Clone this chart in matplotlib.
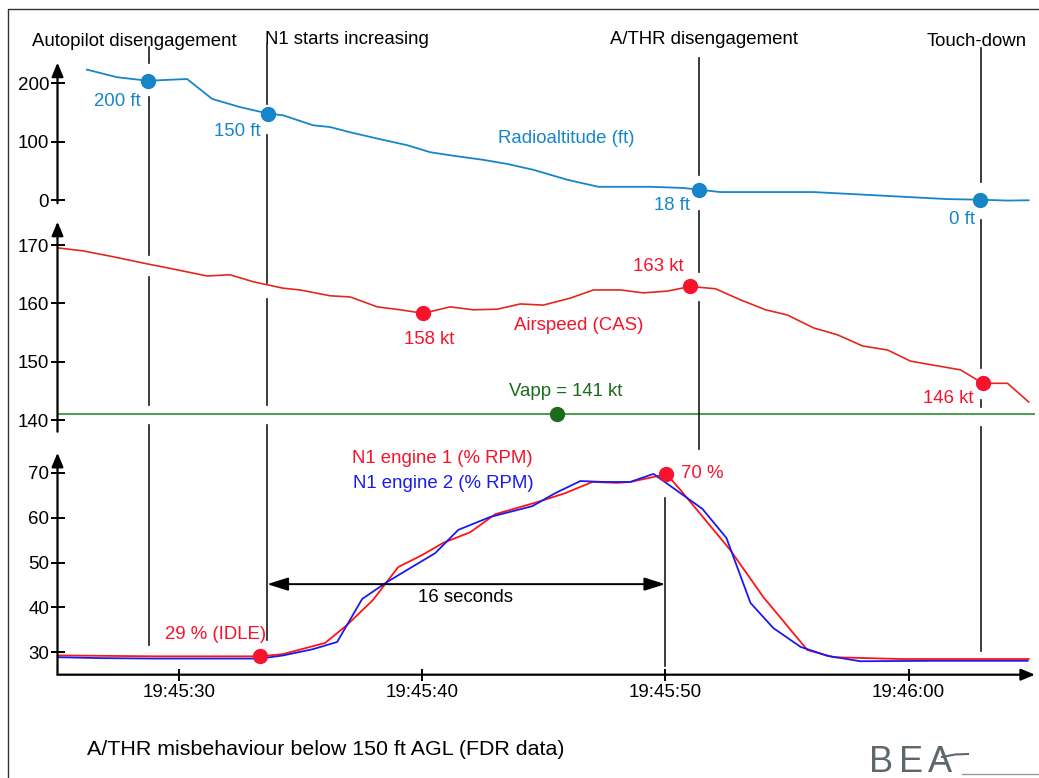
import numpy as np
import matplotlib.pyplot as plt
from matplotlib.lines import Line2D
from matplotlib.transforms import blended_transform_factory

plt.rcParams['font.family'] = ['Liberation Sans', 'DejaVu Sans']

W, H = 1039, 778

# time in seconds after 19:45:00
ra_t = [26.21, 27.45, 28.72, 30.33, 31.36, 32.51, 33.66, 34.28, 35.51, 36.21, 37.04,
        38.40, 39.38, 40.33, 41.28, 42.51, 43.50, 44.57, 45.97, 47.24, 49.38, 50.74,
        51.40, 52.26, 56.09, 57.49, 61.60, 62.92, 64.07, 64.94]
ra_ft = [223, 210, 204, 207, 173, 159, 148, 145, 128, 125, 116,
         103, 94, 82, 76, 69, 62, 52, 35, 23, 23, 21,
         18, 14, 14, 11, 2, 1, -0.5, 0]

cas_t = [25.02, 26.05, 27.16, 28.77, 29.51, 31.15, 32.10, 33.05, 34.28, 34.98, 36.21,
         37.04, 38.15, 39.09, 40.04, 41.15, 42.10, 43.09, 44.03, 44.98, 46.09, 47.04,
         48.15, 49.09, 50.08, 51.03, 52.06, 53.09, 54.12, 55.02, 56.09, 57.08, 58.11,
         59.14, 60.08, 61.03, 62.14, 63.05, 64.07, 64.94]
cas_kt = [169.5, 169.0, 168.1, 166.7, 166.1, 164.7, 164.9, 163.7, 162.6, 162.3, 161.3,
          161.1, 159.4, 158.9, 158.3, 159.4, 158.9, 159.0, 159.9, 159.7, 160.9, 162.3,
          162.3, 161.8, 162.1, 162.9, 162.5, 160.6, 158.9, 158.0, 155.8, 154.6, 152.7,
          152.0, 150.1, 149.4, 148.6, 146.3, 146.3, 143.1]
vapp = 141

n1_1_t = [25.0, 27.0, 29.0, 33.33, 34.28, 36.01, 36.91, 37.98, 39.01, 40.00, 40.86,
          41.98, 43.00, 44.73, 45.88, 47.00, 48.02, 48.56, 49.67, 50.04, 50.62, 52.67,
          54.03, 55.84, 56.91, 59.67, 64.94]
n1_1 = [29.3, 29.2, 29.1, 29.1, 29.6, 32.1, 36.1, 41.7, 49.0, 51.7, 54.4,
        56.8, 60.8, 63.5, 65.5, 68.0, 67.8, 68.0, 69.3, 69.8, 66.2, 52.8,
        42.3, 30.5, 28.9, 28.5, 28.5]
n1_2_t = [25.0, 26.75, 29.0, 33.33, 34.28, 35.51, 36.50, 37.53, 38.56, 39.51, 40.53,
          41.48, 42.80, 44.53, 45.47, 46.50, 47.45, 48.56, 49.51, 51.52, 52.51, 53.50,
          54.44, 55.56, 56.67, 58.02, 61.03, 64.90]
n1_2 = [28.9, 28.7, 28.6, 28.6, 29.3, 30.7, 32.3, 41.9, 45.7, 48.8, 52.1,
        57.3, 60.2, 62.6, 65.5, 68.2, 68.0, 68.0, 69.8, 62.0, 55.5, 41.0,
        35.4, 31.2, 29.2, 28.0, 28.1, 28.1]

ra_mark_t = [28.72, 33.66, 51.40, 62.92]
cas_mark_t = [40.04, 51.03, 63.05]
n1_mark_t = [33.33, 50.04]
vapp_mark_t = 45.56

event_names = ['Autopilot disengagement', 'N1 starts increasing', 'A/THR disengagement', 'Touch-down']
event_t = [28.77, 33.62, 51.40, 62.96]
thrust_end_t = 50.0

x_ticks = [30, 40, 50, 60]
x_labels = ['19:45:30', '19:45:40', '19:45:50', '19:46:00']

RA_C = '#1686c9'
CAS_C = '#e2281c'
RED = '#f5142c'
N1_R = '#ff1414'
N1_B = '#1a1aee'
GREEN = '#2e8b2e'
GREEN_D = '#1b6b1b'
EV_C = '#1a1a1a'
LOGO = '#5d686c'
FS = 13.4

fig = plt.figure(figsize=(W / 100, H / 100), dpi=100)


def px_axes(left, top, right, bottom):
    return fig.add_axes([left / W, 1 - bottom / H, (right - left) / W, (bottom - top) / H])


def ftext(x, y, s, color='k', ha='center', size=FS, **kw):
    fig.text(x / W, 1 - y / H, s, color=color, ha=ha, va='baseline', fontsize=size, **kw)


ax1 = px_axes(57.5, 62.6, 1035, 203.2)
ax2 = px_axes(57.5, 221.7, 1035, 431.7)
ax3 = px_axes(57.5, 452.8, 1035, 674.7)

arrow_kw = dict(arrowstyle='-|>,head_length=0.6,head_width=0.25', color='k', lw=1.6,
                mutation_scale=14, shrinkA=0, shrinkB=0)
for ax in (ax1, ax2, ax3):
    ax.set_xlim(25, 65.2)
    ax.patch.set_alpha(0)
    for s in ax.spines.values():
        s.set_visible(False)
    ax.tick_params(axis='y', direction='inout', length=10, width=1.4, labelsize=13.5, pad=1)
    ax.annotate('', xy=(0, 1), xytext=(0, 0), xycoords='axes fraction',
                textcoords='axes fraction', arrowprops=arrow_kw)

ax1.set_ylim(-5, 235)
ax1.set_yticks([0, 100, 200])
ax2.set_ylim(138, 174)
ax2.set_yticks([140, 150, 160, 170])
ax3.set_ylim(25, 74.5)
ax3.set_yticks([30, 40, 50, 60, 70])
for ax in (ax1, ax2):
    ax.set_xticks([])
ax3.set_xticks(x_ticks)
ax3.set_xticklabels(x_labels)
ax3.tick_params(axis='x', direction='inout', length=8, width=1.4, labelsize=13.5, pad=3)
ax3.annotate('', xy=(1, 0), xytext=(0, 0), xycoords='axes fraction',
             textcoords='axes fraction', arrowprops=arrow_kw)

# curves
ax1.plot(ra_t, ra_ft, color=RA_C, lw=1.3)
ax1.plot(ra_mark_t, np.interp(ra_mark_t, ra_t, ra_ft), 'o', color=RA_C, ms=10, clip_on=False)

ax2.plot(cas_t, cas_kt, color=CAS_C, lw=1.2)
ax2.plot(cas_mark_t, np.interp(cas_mark_t, cas_t, cas_kt), 'o', color=RED, ms=10)
ax2.axhline(vapp, color=GREEN, lw=1.2)
ax2.plot([vapp_mark_t], [vapp], 'o', color=GREEN_D, ms=10)

ax3.plot(n1_1_t, n1_1, color=N1_R, lw=1.3)
ax3.plot(n1_2_t, n1_2, color=N1_B, lw=1.3)
ax3.plot(n1_mark_t, np.interp(n1_mark_t, n1_1_t, n1_1), 'o', color=RED, ms=10)

# 16 seconds bracket
ax3.annotate('', xy=(thrust_end_t, 45.2), xytext=(event_t[1], 45.2),
             arrowprops=dict(arrowstyle='<|-|>,head_length=0.8,head_width=0.25', color='k',
                             lw=1.4, mutation_scale=16, shrinkA=0, shrinkB=0))

# event lines (pixel y segments, gaps around labels and curves)
ev_segments = [
    [(47, 63), (97, 255), (277, 405), (425, 645)],
    [(44, 104), (135, 283), (299, 405), (425, 640)],
    [(58, 175), (211, 272), (302, 449)],
    [(48, 182), (220, 368), (400, 407), (427, 651)],
]
trans = blended_transform_factory(ax3.transData, fig.transFigure)
for t, segs in zip(event_t, ev_segments):
    for y0, y1 in segs:
        fig.add_artist(Line2D([t, t], [1 - y0 / H, 1 - y1 / H], transform=trans, color=EV_C, lw=1.2))
fig.add_artist(Line2D([thrust_end_t, thrust_end_t], [1 - 498 / H, 1 - 666 / H], transform=trans,
                      color=EV_C, lw=1.2))

# event labels
ftext(134, 46, event_names[0])
ftext(347, 44, event_names[1])
ftext(704, 44, event_names[2])
ftext(977, 46.5, event_names[3])

# data labels
ftext(117, 106, '200 ft', RA_C)
ftext(237, 136, '150 ft', RA_C)
ftext(566, 143, 'Radioaltitude (ft)', RA_C)
ftext(672, 210, '18 ft', RA_C)
ftext(962, 224, '0 ft', RA_C)

ftext(658, 271, '163 kt', RED)
ftext(429, 344, '158 kt', RED)
ftext(579, 330, 'Airspeed (CAS)', RED)
ftext(566, 396, 'Vapp = 141 kt', GREEN_D)
ftext(948, 403, '146 kt', RED)

ftext(442, 463, 'N1 engine 1 (% RPM)', RED)
ftext(443, 488, 'N1 engine 2 (% RPM)', N1_B)
ftext(216, 639, '29 % (IDLE)', RED)
ftext(681, 478, '70 %', RED, ha='left')
ftext(465, 602, '16 seconds')

ftext(87, 755, 'A/THR misbehaviour below 150 ft AGL (FDR data)', ha='left', size=15.4)

# BEA logo
for letter, lx in zip('BEA', [869, 899, 928]):
    ftext(lx, 772, letter, LOGO, ha='left', size=26)
fig.add_artist(Line2D([962 / W, 1], [1 - 774 / H, 1 - 774 / H], color='#9a9a9a', lw=1))
fig.add_artist(Line2D([942 / W, 955 / W, 968 / W], [1 - 757 / H, 1 - 754.5 / H, 1 - 754 / H],
                      color=LOGO, lw=1.5))

# frame
fig.add_artist(Line2D([8 / W, 8 / W, 1], [0, 1 - 9 / H, 1 - 9 / H], color='#333333', lw=1))

fig.savefig('out.png', dpi=100)
